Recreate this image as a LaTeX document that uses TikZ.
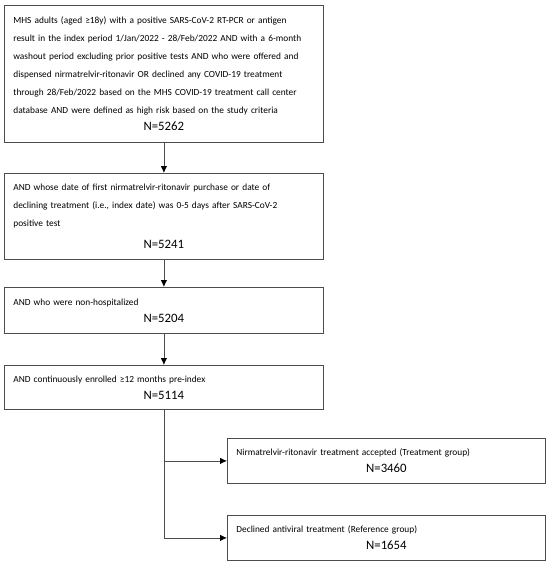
\documentclass[tikz,border=0pt]{standalone}
\usepackage{fontspec}
\setmainfont{Carlito}
\usetikzlibrary{arrows.meta}

\tikzset{
    box/.style={draw=black!70, line width=0.8pt, anchor=north west, inner xsep=9pt, inner ysep=0pt,
        text width=301pt, font=\fontsize{9.35}{18}\selectfont},
    arr/.style={draw=black!70, line width=0.8pt, -{Latex[length=7pt,width=6.5pt,black]}}
}
\newcommand{\ncount}[1]{\par{\fontsize{12.8}{17}\selectfont\centering N=#1\par}}

\begin{document}
\begin{tikzpicture}[x=1pt,y=-1pt]
        \fill[white] (0,0) rectangle (550,565);
        \useasboundingbox (0,0) rectangle (550,565);

        % selection steps
        \node[box, minimum height=137pt] (start) at (4,5) {\raggedright
            MHS adults (aged ≥18y) with a positive SARS-CoV-2 RT-PCR or antigen\\
            result in the index period 1/Jan/2022 - 28/Feb/2022 AND with a 6-month\\
            washout period excluding prior positive tests AND who were offered and\\
            dispensed nirmatrelvir-ritonavir OR declined any COVID-19 treatment\\
            through 28/Feb/2022 based on the MHS COVID-19 treatment call center\\
            database AND were defined as high risk based on the study criteria
            \ncount{5262}};

        \node[box, minimum height=86pt] (window) at (4,173) {\raggedright
            AND whose date of first nirmatrelvir-ritonavir purchase or date of\\
            declining treatment (i.e., index date) was 0-5 days after SARS-CoV-2\\
            positive test\par\vspace{5pt}
            \ncount{5241}};

        \node[box, minimum height=46pt] (nonhosp) at (4,287) {\raggedright
            AND who were non-hospitalized
            \ncount{5204}};

        \node[box, minimum height=44pt] (enrolled) at (4,365) {\raggedright
            AND continuously enrolled ≥12 months pre-index
            \ncount{5114}};

        % groups
        \node[box, text width=300pt, minimum height=45pt] (treated) at (227,438) {\raggedright
            Nirmatrelvir-ritonavir treatment accepted (Treatment group)
            \ncount{3460}};

        \node[box, text width=300pt, minimum height=45pt] (declined) at (227,515) {\raggedright
            Declined antiviral treatment (Reference group)
            \ncount{1654}};

        \draw[arr] (start.south) -- (window.north);
        \draw[arr] (window.south) -- (nonhosp.north);
        \draw[arr] (nonhosp.south) -- (enrolled.north);
        \draw[arr] (enrolled.south) |- (treated.west);
        \draw[arr] (enrolled.south) |- (declined.west);

    \end{tikzpicture}
\end{document}
